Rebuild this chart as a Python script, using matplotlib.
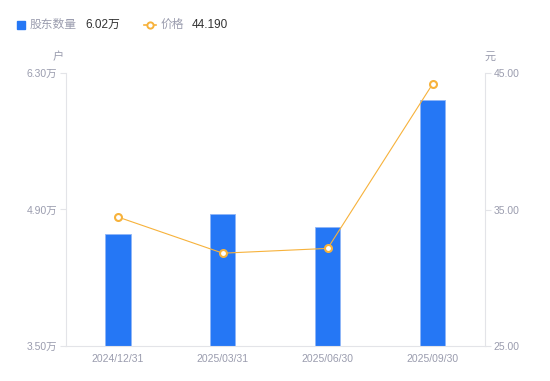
import matplotlib
matplotlib.use("Agg")
import matplotlib.pyplot as plt
import numpy as np

plt.rcParams['font.family'] = ['Liberation Sans', 'Noto Sans CJK SC', 'DejaVu Sans']

categories = ["2024/12/31", "2025/03/31", "2025/06/30", "2025/09/30"]
holders = [4.65, 4.85, 4.72, 6.02]        # 万户
price = [34.45, 31.80, 32.15, 44.19]       # 元
left_ticks = [3.5, 4.9, 6.3]
left_labels = ["3.50万", "4.90万", "6.30万"]
right_ticks = [25, 35, 45]
right_labels = ["25.00", "35.00", "45.00"]

BLUE = "#2577f5"
ORANGE = "#f7b23b"
GRAY = "#9a9cae"
AXC = "#e3e4e8"

fig = plt.figure(figsize=(5.5, 3.81), dpi=100)
ax = fig.add_axes([65.5/550, 35/381, (485-65.5)/550, (346-73)/381])
x = np.arange(len(categories))
ax.bar(x, holders, width=0.24, color=BLUE, edgecolor="#8fb6f7", linewidth=0.6, zorder=2)
ax.set_xlim(-0.5, len(categories) - 0.5)
ax.set_ylim(3.5, 6.3)
ax.set_yticks(left_ticks)
ax.set_yticklabels(left_labels)
ax.set_xticks(x)
ax.set_xticklabels(categories)

ax2 = ax.twinx()
ax2.plot(x, price, color=ORANGE, linewidth=0.8, marker='o', markersize=5,
         markerfacecolor='white', markeredgecolor=ORANGE, markeredgewidth=1.5, zorder=3)
ax2.set_ylim(25, 45)
ax2.set_yticks(right_ticks)
ax2.set_yticklabels(right_labels)

for a in (ax, ax2):
    for s in a.spines.values():
        s.set_visible(False)
    a.tick_params(colors=AXC, labelcolor=GRAY, labelsize=7.5, length=4, width=0.8)
ax.spines['left'].set_visible(True)
ax.spines['left'].set_color(AXC)
ax.spines['bottom'].set_visible(True)
ax.spines['bottom'].set_color(AXC)
ax2.spines['right'].set_visible(True)
ax2.spines['right'].set_color(AXC)
ax.tick_params(axis='x', length=0, pad=6)
ax.tick_params(axis='y', pad=2)
ax2.tick_params(axis='y', pad=2)

fig.text(58/550, 1 - 57/381, "户", color=GRAY, fontsize=8, ha='center', va='center')
fig.text(490/550, 1 - 57/381, "元", color=GRAY, fontsize=8, ha='center', va='center')

# legend
fig.patches.append(plt.Rectangle((17/550, 1 - 29/381), 8/550, 8/381, transform=fig.transFigure,
                                 color=BLUE, figure=fig))
fig.text(30/550, 1 - 25/381, "股东数量", color=GRAY, fontsize=8.5, va='center')
fig.text(85/550, 1 - 25/381, "6.02万", color="#333333", fontsize=8.5, va='center')
fig.lines.append(plt.Line2D([144/550, 156/550], [1 - 25/381, 1 - 25/381], transform=fig.transFigure,
                            color=ORANGE, linewidth=1.2))
fig.lines.append(plt.Line2D([150/550], [1 - 25/381], transform=fig.transFigure, color=ORANGE,
                            marker='o', markersize=4.5, markerfacecolor='white',
                            markeredgecolor=ORANGE, markeredgewidth=1.4, linestyle='none'))
fig.text(161/550, 1 - 25/381, "价格", color=GRAY, fontsize=8.5, va='center')
fig.text(192/550, 1 - 25/381, "44.190", color="#333333", fontsize=8.5, va='center')

fig.savefig("out.png", dpi=100)
